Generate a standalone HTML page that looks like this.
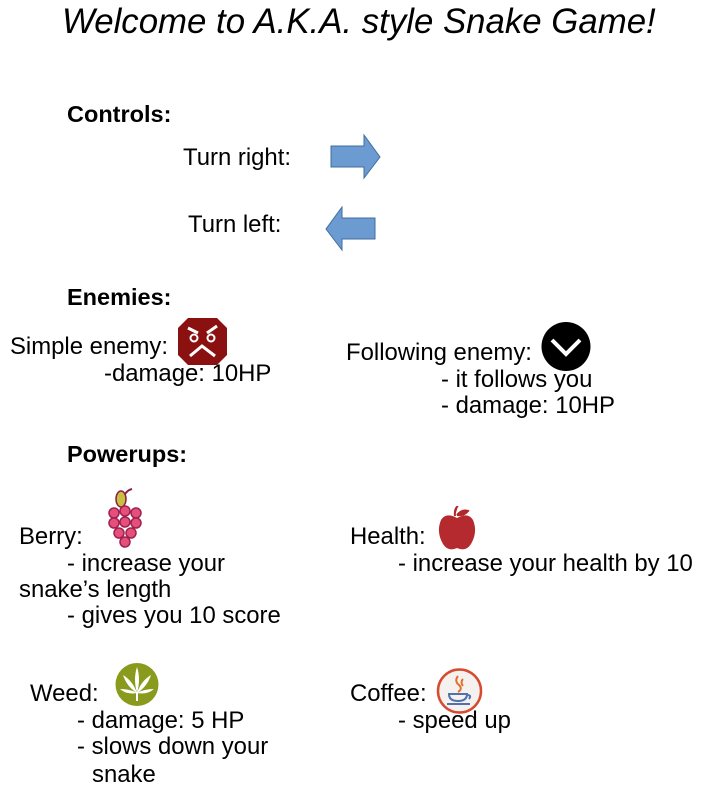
<!DOCTYPE html>
<html><head><meta charset="utf-8"><style>
body{margin:0;width:706px;height:811px;background:#fff;position:relative;overflow:hidden;font-family:"Liberation Sans",sans-serif;color:#000}
.t{position:absolute;font-size:23.9px;line-height:26px;white-space:nowrap}
.h{font-weight:bold;font-size:23.5px}
svg{position:absolute}
</style></head><body>
<div class="t" style="left:62px;top:2px;font-size:34.8px;line-height:40px;font-style:italic">Welcome to A.K.A. style Snake Game!</div>
<div class="t h" style="left:67px;top:101px">Controls:</div>
<div class="t" style="left:183px;top:145px">Turn right:</div>
<svg style="left:330px;top:134px" width="52" height="46"><polygon points="1,12 34,12 34,1 50,23 34,44 34,33 1,33" fill="#6b9bd0" stroke="#3f6e9f" stroke-width="1"/></svg>
<div class="t" style="left:188px;top:212px">Turn left:</div>
<svg style="left:325px;top:206px" width="52" height="46"><polygon points="50,12 17,12 17,1 1,23 17,44 17,33 50,33" fill="#6b9bd0" stroke="#3f6e9f" stroke-width="1"/></svg>
<div class="t h" style="left:67px;top:284px">Enemies:</div>
<div class="t" style="left:10px;top:334px">Simple enemy:</div>
<svg style="left:178px;top:318px" width="49" height="47"><polygon points="10,0 39,0 49,10 49,37 39,47 10,47 0,37 0,10" fill="#8b1010"/><path d="M10,10 L20,15 M39,8 L29,15" stroke="#fff" stroke-width="3"/><circle cx="16" cy="20" r="3.5" fill="none" stroke="#fff" stroke-width="2"/><circle cx="33" cy="20" r="3.5" fill="none" stroke="#fff" stroke-width="2"/><path d="M12,38 L24,28 L37,38" fill="none" stroke="#fff" stroke-width="3"/></svg>
<div class="t" style="left:104px;top:361px">-damage: 10HP</div>
<div class="t" style="left:346px;top:340px">Following enemy:</div>
<svg style="left:541px;top:322px" width="50" height="49"><circle cx="25" cy="24.5" r="24.5" fill="#000"/><path d="M11,18 L25,32 L39,18" fill="none" stroke="#fff" stroke-width="4"/></svg>
<div class="t" style="left:441px;top:367px">- it follows you</div>
<div class="t" style="left:441px;top:393px">- damage: 10HP</div>
<div class="t h" style="left:67px;top:441px">Powerups:</div>
<div class="t" style="left:19px;top:524px">Berry:</div>
<svg style="left:106px;top:487px" width="40" height="62"><path d="M17,14 Q18,4 26,2" stroke="#8b2040" stroke-width="2" fill="none"/><ellipse cx="15" cy="12" rx="5" ry="8" fill="#c8c040" stroke="#8b2040" stroke-width="1.5"/><g fill="#e5507a" stroke="#a02050" stroke-width="1.5"><circle cx="8" cy="26" r="5"/><circle cx="19" cy="24" r="5"/><circle cx="30" cy="26" r="5"/><circle cx="8" cy="36" r="5"/><circle cx="19" cy="35" r="5"/><circle cx="30" cy="36" r="5"/><circle cx="13" cy="46" r="5"/><circle cx="25" cy="46" r="5"/><circle cx="19" cy="55" r="5"/></g></svg>
<div class="t" style="left:67px;top:551px">- increase your</div>
<div class="t" style="left:19px;top:577px">snake’s length</div>
<div class="t" style="left:67px;top:603px">- gives you 10 score</div>
<div class="t" style="left:350px;top:524px">Health:</div>
<svg style="left:438px;top:506px" width="38" height="45"><path d="M17,10 Q16,3 20,0 M19,9 Q24,3 30,5 Q26,10 19,9" fill="#b02828" stroke="#b02828" stroke-width="2"/><path d="M19,12 Q8,6 3,14 Q-2,26 5,38 Q10,46 19,42 Q28,46 33,38 Q40,26 35,14 Q30,6 19,12Z" fill="#b52a2e"/></svg>
<div class="t" style="left:398px;top:551px">- increase your health by 10</div>
<div class="t" style="left:30px;top:681px">Weed:</div>
<svg style="left:115px;top:663px" width="44" height="43"><circle cx="22" cy="21.5" r="21.5" fill="#8a9a1c"/><g fill="#fff"><path d="M22,4 Q26,16 22,30 Q18,16 22,4Z"/><path d="M8,12 Q18,18 22,30 Q12,24 8,12Z"/><path d="M36,12 Q26,18 22,30 Q32,24 36,12Z"/><path d="M5,26 Q15,26 22,30 Q12,32 5,26Z"/><path d="M39,26 Q29,26 22,30 Q32,32 39,26Z"/><rect x="21" y="29" width="2" height="9"/></g></svg>
<div class="t" style="left:77px;top:708px">- damage: 5 HP</div>
<div class="t" style="left:77px;top:734px">- slows down your</div>
<div class="t" style="left:92px;top:762px">snake</div>
<div class="t" style="left:350px;top:681px">Coffee:</div>
<svg style="left:436px;top:668px" width="47" height="46"><circle cx="23.5" cy="23" r="21.5" fill="#f5f1ee" stroke="#d64a30" stroke-width="2.5"/><path d="M22,8 Q18,13 23,17 Q27,21 22,24 M27,11 Q24,14 27,18" stroke="#e07030" stroke-width="2" fill="none"/><path d="M13,26 L31,26 Q31,33 22,33 Q13,33 13,26Z M31,27 Q36,27 33,31" fill="none" stroke="#5070b0" stroke-width="2"/><path d="M11,36 L34,36" stroke="#5070b0" stroke-width="2"/></svg>
<div class="t" style="left:398px;top:708px">- speed up</div>
</body></html>
